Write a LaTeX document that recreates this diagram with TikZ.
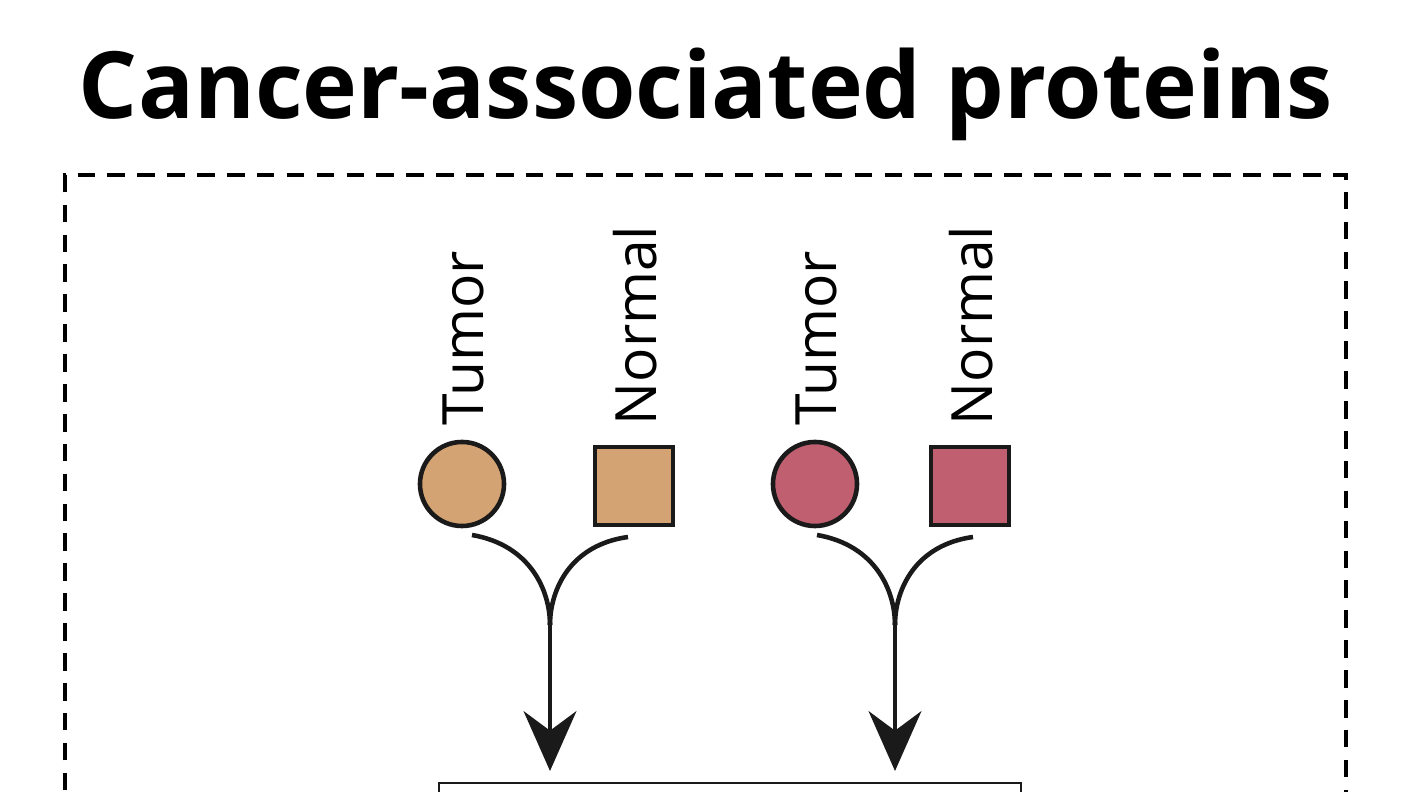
\documentclass[tikz,border=0pt]{standalone}
\usepackage{fontspec}
\setmainfont{Open Sans}
\usetikzlibrary{arrows.meta}
\definecolor{tan}{HTML}{D4A373}
\definecolor{rose}{HTML}{BF5F6F}
\definecolor{ink}{HTML}{1A1A1A}
\begin{document}
\begin{tikzpicture}[x=0.01cm,y=-0.01cm,
  sym/.style={draw=ink,line width=1.3pt,inner sep=0pt},
  lab/.style={rotate=90,anchor=west,inner sep=0pt,font=\fontsize{16.2}{16.2}\selectfont},
  flow/.style={line width=1.3pt,draw=ink},
  tip/.style={-{Stealth[length=17pt,width=15pt]}}]
\useasboundingbox (0,0) rectangle (1408,792);
\node[font=\bfseries\fontsize{26.4}{26.4}\selectfont,inner sep=0pt] (title) at (706,94) {Cancer-associated proteins};
\draw[line width=1.4pt,dash pattern=on 5pt off 3.5pt] (65,850) -- (65,175) -- (1346,175) -- (1346,850);
\node[sym,circle,fill=tan,minimum size=0.84cm] (c1) at (462,484) {};
\node[sym,rectangle,fill=tan,minimum size=0.78cm] (s1) at (634,486) {};
\node[sym,circle,fill=rose,minimum size=0.84cm] (c2) at (815,484) {};
\node[sym,rectangle,fill=rose,minimum size=0.78cm] (s2) at (970,486) {};
\node[lab] (t1) at (463,426) {Tumor};
\node[lab] (n1) at (635,426) {Normal};
\node[lab] (t2) at (816,426) {Tumor};
\node[lab] (n2) at (971,426) {Normal};
\coordinate (m1) at (550,625);
\coordinate (m2) at (895,625);
\draw[flow] (472,535) .. controls (530,545) and (550,590) .. (m1);
\draw[flow] (628,537) .. controls (570,545) and (550,590) .. (m1);
\draw[flow] (817,535) .. controls (875,545) and (895,590) .. (m2);
\draw[flow] (973,537) .. controls (915,545) and (895,590) .. (m2);
\node[draw=ink,line width=0.6pt,minimum width=5.82cm,minimum height=0.4cm,anchor=north west,inner sep=0pt] (box) at (438,782) {};
\draw[flow,tip] (m1) -- (550,771);
\draw[flow,tip] (m2) -- (895,771);
\end{tikzpicture}
\end{document}
